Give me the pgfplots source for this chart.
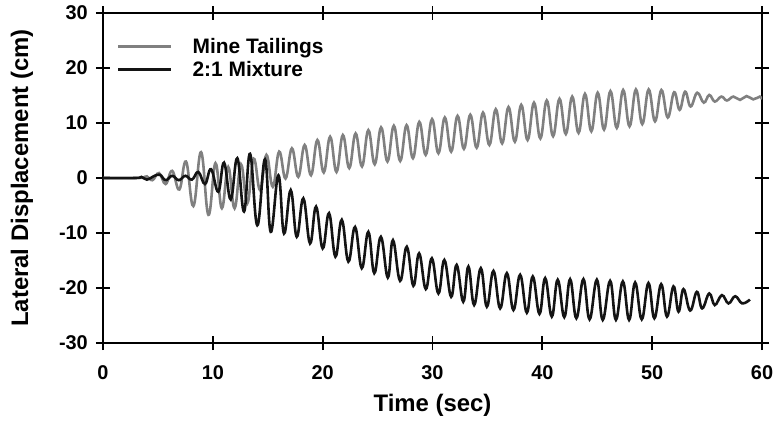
\documentclass[border=0pt]{standalone}
\usepackage{fontspec}
\setmainfont{Liberation Sans}
\usepackage{pgfplots}
\pgfplotsset{compat=1.18}
\definecolor{gline}{RGB}{128,128,128}
\definecolor{bline}{RGB}{20,20,20}
\begin{document}
\begin{tikzpicture}
\begin{axis}[
  scale only axis, width=659bp, height=330bp,
  xmin=0, xmax=60, ymin=-30, ymax=30,
  xtick={0,10,20,30,40,50,60}, xticklabels={0,10,20,30,40,50,60},
  ytick={-30,-20,-10,0,10,20,30}, yticklabels={-30,-20,-10,0,10,20,30},
  tick align=center, major tick length=14bp,
  axis line style={line width=1.8bp, black},
  tick style={line width=1.8bp, black},
  xticklabel style={font=\fontsize{20}{23}\selectfont\bfseries, anchor=base, yshift=-29bp, inner sep=0pt},
  yticklabel style={font=\fontsize{20}{23}\selectfont\bfseries, anchor=east, xshift=-8bp, inner sep=0pt},
  xlabel={Time (sec)},
  xlabel style={font=\fontsize{24}{28}\selectfont\bfseries, at={(axis description cs:0.5,-0.209)}, anchor=base, inner sep=0pt},
  ylabel={Lateral Displacement (cm)},
  ylabel style={font=\fontsize{24}{28}\selectfont\bfseries, at={(axis description cs:-0.1229,0.5)}, anchor=center, inner sep=0pt},
  legend style={at={(axis description cs:0,1)}, anchor=north west, xshift=14bp, yshift=-25bp,
    draw=none, fill=none, inner sep=0pt, outer sep=0pt, row sep=6.5bp, column sep=20bp,
    font=\fontsize{21}{24}\selectfont\bfseries, nodes={inner sep=0pt}},
  legend cell align=left,
  legend image code/.code={\draw[#1] (0bp,0bp) -- (53bp,0bp);},
]
\addplot[color=gline, line width=2.6bp, smooth, tension=0.7] coordinates {
(0,0) (2,0) (3.5,0.05) (4.0,0.3) (4.5,-0.4) (5.1,0.9) (5.7,-1.1) (6.3,1.3) (6.95,-2.1) (7.56,3.0) (8.23,-5.1) (8.93,4.7) (9.6,-6.7)
(10.24,2.7) (10.82,-5.5) (11.4,2.0) (11.98,-5.5) (12.56,2.5) (13.14,-4.6) (13.72,3.5) (14.3,-2.2) (14.88,4.2) (15.46,-1.6)
(16.04,4.8) (16.62,-0.1) (17.2,5.4) (17.78,0.2) (18.36,6.0) (18.94,0.5) (19.52,6.9) (20.1,1.0) (20.68,7.5) (21.26,1.1)
(21.84,7.8) (22.42,1.8) (23.0,8.1) (23.58,2.1)
(24.16,8.7) (24.74,2.5) (25.32,9.2) (25.9,3.0) (26.48,9.5) (27.06,3.1) (27.64,9.6) (28.22,3.6) (28.80,10.2) (29.38,4.2)
(29.96,10.7) (30.54,4.5) (31.12,11.0) (31.7,4.8) (32.28,11.3) (32.86,5.3) (33.44,11.5) (34.02,5.5) (34.60,11.9) (35.18,6.0)
(35.76,12.5) (36.34,6.3) (36.92,12.9) (37.5,6.6) (38.08,13.3) (38.66,6.9) (39.24,13.7) (39.82,7.2) (40.40,14.1) (40.98,7.6)
(41.56,14.4) (42.14,8.0) (42.72,14.8) (43.3,8.2) (43.88,15.3) (44.46,8.5) (45.04,15.5) (45.62,8.8) (46.20,15.8) (46.78,9.1)
(47.36,16.0) (47.94,9.4) (48.52,16.1) (49.1,9.8) (49.68,16.1) (50.26,10.3) (50.84,16.0) (51.42,11.0) (52.0,15.6) (52.5,12.4)
(53.0,15.7) (53.5,13.0) (54.1,15.5) (54.7,13.7) (55.2,15.1) (55.7,13.9) (56.3,14.8) (56.8,14.1) (57.4,14.8) (58.0,14.2)
(58.6,14.9) (59.2,14.3) (59.8,14.8) (60,14.3)
};
\addlegendentry{Mine Tailings}
\addplot[color=bline, line width=2.6bp, smooth, tension=0.7] coordinates {
(0,0) (3,0) (3.5,0.2) (4.0,-0.3) (4.6,0.3) (5.17,0.6) (5.7,-0.4) (6.3,0.4) (6.9,-0.4) (7.5,0.4) (8.1,-0.3) (8.68,1.1) (9.29,-1.1)
(9.84,1.6) (10.5,-2.5) (11.02,2.8) (11.63,-3.9) (12.23,3.6) (12.84,-6.1) (13.39,4.4) (14.05,-8.6) (14.75,3.4) (15.27,-9.8)
(15.97,0.5) (16.48,-10.1) (17.09,-2.2) (17.64,-10.7) (18.24,-3.7) (18.85,-11.9) (19.4,-5.2) (20.0,-12.8) (20.58,-6.4) (21.16,-14.3)
(21.74,-7.6) (22.34,-15.2) (22.95,-8.9) (23.56,-16.4) (24.16,-9.8) (24.7,-17.3) (25.3,-10.7) (25.93,-18.1) (26.4,-11.3) (27.05,-18.7)
(27.66,-12.5) (28.26,-19.6) (28.78,-13.7) (29.39,-20.2) (29.94,-14.6) (30.54,-21.0) (31.08,-14.9) (31.7,-21.6) (32.2,-15.8) (32.8,-22.5)
(33.27,-16.1) (33.79,-23.1) (34.4,-16.4) (34.95,-23.4) (35.55,-16.9) (36.16,-23.7) (36.77,-17.3) (37.37,-24.0) (37.98,-17.6) (38.59,-24.5)
(39.13,-17.9) (39.74,-24.7) (40.26,-18.2) (40.86,-25.2) (41.4,-18.5) (42.0,-25.3) (42.53,-18.4) (43.1,-25.5) (43.74,-18.4) (44.3,-25.7)
(44.96,-18.5) (45.5,-25.8) (46.17,-18.7) (46.7,-25.8) (47.33,-18.8) (47.9,-25.8) (48.45,-19.0) (49.05,-25.7) (49.66,-19.1) (50.2,-25.5)
(50.82,-19.3) (51.35,-25.2) (51.94,-19.7) (52.4,-24.3) (52.85,-20.2) (53.46,-24.1) (54.07,-20.7) (54.55,-23.7) (55.2,-21.0) (55.7,-23.1)
(56.35,-21.3) (56.95,-22.8) (57.56,-21.5) (58.2,-22.8) (58.9,-22.1)
};
\addlegendentry{2:1 Mixture}
\end{axis}
\pgfresetboundingbox
\path ([shift={(-103bp,-79bp)}]current axis.south west) rectangle ++(776bp,422bp);
\end{tikzpicture}
\end{document}
